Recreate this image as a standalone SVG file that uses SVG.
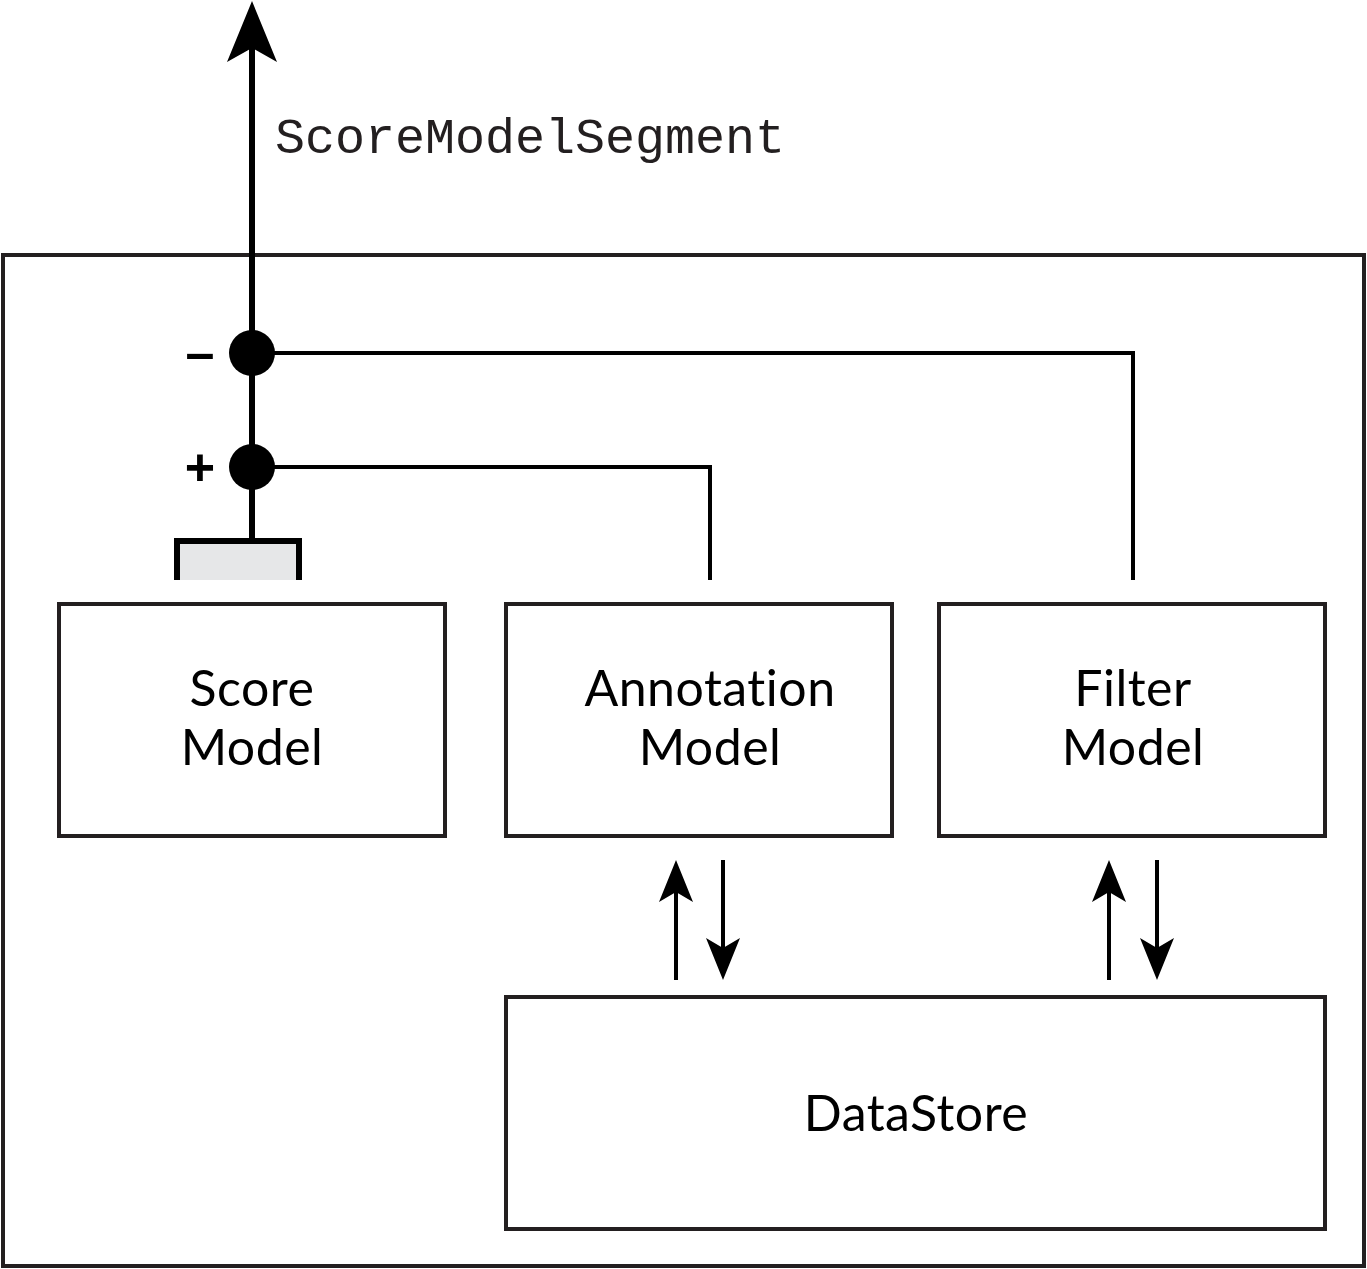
<svg xmlns="http://www.w3.org/2000/svg" width="1367" height="1269" viewBox="0 0 1367 1269">
<style>
.box{fill:#ffffff;stroke:#231f20;stroke-width:4}
.lbl{font-family:Lato,"Liberation Sans",sans-serif;font-size:50px;fill:#000;text-anchor:middle;font-variant-ligatures:none;letter-spacing:0.5px}
.mono{font-family:"Liberation Mono","DejaVu Sans Mono",monospace;font-size:50px;fill:#231f20}
.sign{font-family:"Liberation Sans",Arial,sans-serif;font-weight:bold;font-size:52px;fill:#000;text-anchor:middle}
.wire{fill:none;stroke:#000;stroke-width:4}
.bus{fill:none;stroke:#000;stroke-width:6}
.head{fill:#000}
</style>
<rect width="1367" height="1269" fill="#ffffff"/>
<g id="container">
<rect x="3" y="255" width="1361" height="1011" fill="none" stroke="#231f20" stroke-width="4"/>
</g>
<g id="score-model">
<rect class="box" x="59" y="604" width="386" height="232"/>
<text class="lbl" x="252" y="706">Score</text>
<text class="lbl" x="252" y="765">Model</text>
</g>
<g id="annotation-model">
<rect class="box" x="506" y="604" width="386" height="232"/>
<text class="lbl" x="710" y="706">Annotation</text>
<text class="lbl" x="710" y="765">Model</text>
</g>
<g id="filter-model">
<rect class="box" x="939" y="604" width="386" height="232"/>
<text class="lbl" x="1133" y="706">Filter</text>
<text class="lbl" x="1133" y="765">Model</text>
</g>
<g id="datastore">
<rect class="box" x="506" y="997" width="819" height="232"/>
<text class="lbl" x="916" y="1131">DataStore</text>
</g>
<g id="port">
<path d="M177,580 V541 H299 V580" fill="#e6e7e8" stroke="#000" stroke-width="6"/>
</g>
<g id="connectors">
<line class="bus" x1="252" y1="46" x2="252" y2="541"/>
<polygon class="head" points="252,1 277,62 252,48 227,62"/>
<path class="wire" d="M252,353 H1133 V580"/>
<path class="wire" d="M252,467 H710 V580"/>
<circle cx="252" cy="353" r="23" fill="#000"/>
<circle cx="252" cy="467" r="23" fill="#000"/>
<line class="wire" x1="676" y1="892" x2="676" y2="980"/>
<polygon class="head" points="676,860 693,902 676,892 659,902"/>
<line class="wire" x1="723" y1="860" x2="723" y2="948"/>
<polygon class="head" points="723,980 740,938 723,948 706,938"/>
<line class="wire" x1="1109" y1="892" x2="1109" y2="980"/>
<polygon class="head" points="1109,860 1126,902 1109,892 1092,902"/>
<line class="wire" x1="1157" y1="860" x2="1157" y2="948"/>
<polygon class="head" points="1157,980 1174,938 1157,948 1140,938"/>
</g>
<g id="labels">
<text class="mono" x="275" y="153">ScoreModelSegment</text>
<text class="sign" x="200" y="370">–</text>
<text class="sign" x="200" y="485">+</text>
</g>
</svg>
